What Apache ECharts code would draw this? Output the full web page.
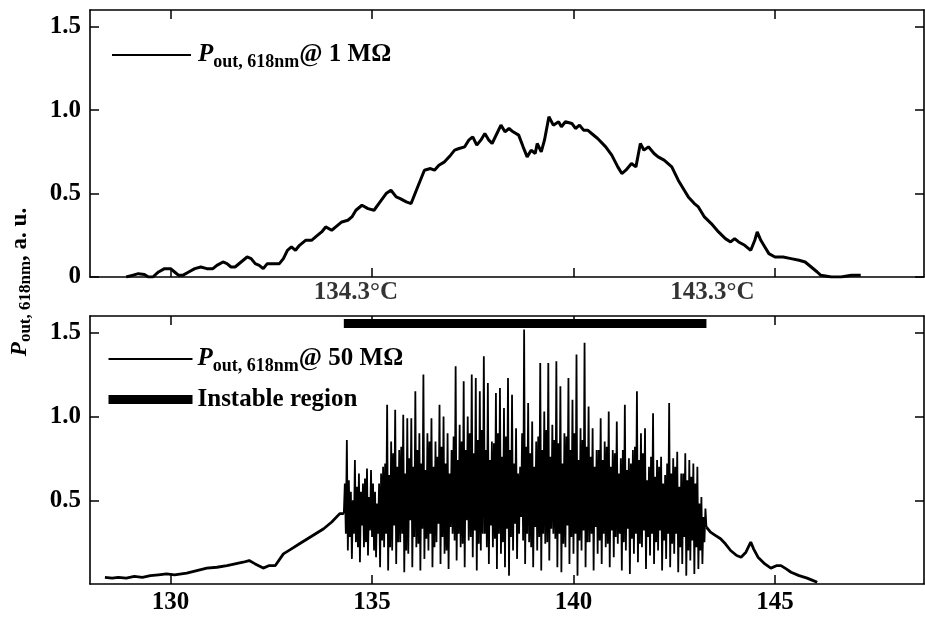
<!DOCTYPE html>
<html>
<head>
<meta charset="utf-8">
<style>html,body{margin:0;padding:0;background:#fff;}#chart{width:925px;height:644px;}</style>
<script src="https://cdn.jsdelivr.net/npm/echarts@6/dist/echarts.min.js"></script>
</head>
<body>
<div id="chart"></div>
<script>
// ---- data ----
const tempTicks = [130, 135, 140, 145];
const tempTickLabels = ['130', '135', '140', '145'];
const powerTicksTop = [0, 0.5, 1.0, 1.5];
const powerTicksBottom = [0.5, 1.0, 1.5];
const instableRegion = [134.3, 143.3];
const instableLevel = 1.555;
const instableLabels = ['134.3°C', '143.3°C'];

// P_out @ 1 MOhm  [T, P]
const p1MOhm = [[128.90,0.00],[129.05,0.01],[129.20,0.02],[129.35,0.015],[129.45,0.00],[129.56,0.00],[129.70,0.03],[129.85,0.05],[130.00,0.05],[130.10,0.03],[130.20,0.01],[130.30,0.01],[130.45,0.03],[130.60,0.05],[130.75,0.06],[130.90,0.05],[131.05,0.05],[131.15,0.07],[131.30,0.09],[131.40,0.08],[131.50,0.06],[131.60,0.06],[131.75,0.09],[131.90,0.12],[132.00,0.11],[132.10,0.08],[132.20,0.07],[132.30,0.05],[132.40,0.08],[132.55,0.08],[132.70,0.08],[132.80,0.11],[132.90,0.16],[133.00,0.18],[133.10,0.16],[133.20,0.19],[133.35,0.22],[133.50,0.22],[133.60,0.24],[133.75,0.27],[133.85,0.30],[134.00,0.28],[134.10,0.30],[134.25,0.33],[134.40,0.34],[134.50,0.36],[134.60,0.40],[134.75,0.43],[134.90,0.41],[135.05,0.40],[135.20,0.45],[135.35,0.50],[135.47,0.52],[135.60,0.48],[135.70,0.47],[135.85,0.45],[135.97,0.44],[136.10,0.52],[136.20,0.58],[136.30,0.64],[136.45,0.65],[136.55,0.64],[136.66,0.67],[136.80,0.69],[136.95,0.73],[137.05,0.76],[137.16,0.77],[137.30,0.78],[137.40,0.82],[137.50,0.84],[137.60,0.79],[137.70,0.82],[137.80,0.86],[137.90,0.82],[137.98,0.80],[138.10,0.86],[138.20,0.91],[138.30,0.87],[138.40,0.89],[138.50,0.87],[138.64,0.85],[138.75,0.78],[138.85,0.72],[138.95,0.76],[139.05,0.74],[139.10,0.80],[139.20,0.75],[139.28,0.82],[139.39,0.96],[139.50,0.91],[139.63,0.93],[139.70,0.90],[139.80,0.93],[139.96,0.92],[140.05,0.89],[140.15,0.91],[140.25,0.88],[140.35,0.88],[140.45,0.86],[140.60,0.83],[140.80,0.78],[140.95,0.73],[141.10,0.66],[141.20,0.62],[141.30,0.64],[141.44,0.68],[141.55,0.66],[141.66,0.80],[141.75,0.76],[141.86,0.78],[142.00,0.74],[142.10,0.72],[142.25,0.70],[142.44,0.66],[142.60,0.58],[142.75,0.52],[142.85,0.48],[143.00,0.44],[143.10,0.42],[143.25,0.36],[143.42,0.32],[143.60,0.27],[143.77,0.23],[143.90,0.21],[144.00,0.23],[144.10,0.21],[144.25,0.19],[144.40,0.16],[144.50,0.22],[144.56,0.27],[144.65,0.22],[144.75,0.18],[144.85,0.14],[145.00,0.12],[145.20,0.12],[145.40,0.11],[145.60,0.10],[145.75,0.09],[145.90,0.06],[146.05,0.03],[146.14,0.01],[146.40,0.00],[146.64,0.00],[146.90,0.01],[147.13,0.01]];

// P_out @ 50 MOhm, split in three parts  [T, P]
const p50Ramp = [[128.37,0.04],[128.55,0.035],[128.70,0.04],[128.90,0.035],[129.10,0.045],[129.30,0.04],[129.50,0.05],[129.70,0.055],[129.90,0.06],[130.10,0.055],[130.40,0.065],[130.65,0.08],[130.90,0.095],[131.15,0.10],[131.40,0.11],[131.60,0.12],[131.80,0.13],[131.95,0.14],[132.10,0.12],[132.30,0.095],[132.45,0.11],[132.60,0.11],[132.80,0.18],[133.00,0.21],[133.20,0.24],[133.40,0.27],[133.60,0.30],[133.80,0.33],[134.00,0.37],[134.20,0.42],[134.30,0.42]];

const p50Instable = [
[134.300,0.42],[134.325,0.60],[134.350,0.30],[134.375,0.86],
[134.400,0.20],[134.425,0.62],[134.450,0.28],[134.475,0.55],
[134.500,0.15],[134.525,0.50],[134.550,0.30],[134.575,0.74],
[134.600,0.25],[134.625,0.58],[134.650,0.22],[134.675,0.66],
[134.700,0.13],[134.725,0.55],[134.750,0.35],[134.775,0.60],
[134.800,0.22],[134.825,0.63],[134.850,0.25],[134.875,0.69],
[134.900,0.17],[134.925,0.52],[134.950,0.32],[134.975,0.68],
[135.000,0.28],[135.025,0.60],[135.050,0.20],[135.075,0.55],
[135.100,0.16],[135.125,0.48],[135.150,0.30],[135.175,0.60],
[135.200,0.10],[135.225,0.66],[135.250,0.26],[135.275,0.70],
[135.300,0.22],[135.325,0.72],[135.350,0.30],[135.375,1.07],
[135.400,0.08],[135.425,0.65],[135.450,0.22],[135.475,0.85],
[135.500,0.20],[135.525,0.78],[135.550,0.35],[135.575,1.04],
[135.600,0.12],[135.625,0.70],[135.650,0.25],[135.675,0.80],
[135.700,0.25],[135.725,0.82],[135.750,0.30],[135.775,1.01],
[135.800,0.07],[135.825,0.66],[135.850,0.20],[135.875,0.99],
[135.900,0.18],[135.925,0.75],[135.950,0.38],[135.975,0.99],
[136.000,0.10],[136.025,0.70],[136.050,0.28],[136.075,1.15],
[136.100,0.22],[136.125,0.80],[136.150,0.24],[136.175,0.90],
[136.200,0.08],[136.225,0.72],[136.250,0.33],[136.275,1.25],
[136.300,0.15],[136.325,0.68],[136.350,0.27],[136.375,0.90],
[136.400,0.20],[136.425,0.85],[136.450,0.30],[136.475,0.99],
[136.500,0.10],[136.525,0.70],[136.550,0.22],[136.575,0.85],
[136.600,0.25],[136.625,0.76],[136.650,0.36],[136.675,1.07],
[136.700,0.12],[136.725,0.82],[136.750,0.28],[136.775,1.00],
[136.800,0.18],[136.825,0.72],[136.850,0.20],[136.875,0.90],
[136.900,0.09],[136.925,0.66],[136.950,0.34],[136.975,0.80],
[137.000,0.30],[137.025,0.88],[137.050,0.26],[137.075,1.30],
[137.100,0.14],[137.125,0.74],[137.150,0.30],[137.175,0.95],
[137.200,0.22],[137.225,0.85],[137.250,0.24],[137.275,1.21],
[137.300,0.10],[137.325,0.80],[137.350,0.38],[137.375,1.00],
[137.400,0.26],[137.425,0.90],[137.450,0.28],[137.475,1.25],
[137.500,0.16],[137.525,0.78],[137.550,0.32],[137.575,1.23],
[137.600,0.08],[137.625,0.86],[137.650,0.24],[137.675,1.15],
[137.700,0.20],[137.725,0.92],[137.750,0.30],[137.775,1.36],
[137.800,0.30],[137.825,0.80],[137.850,0.22],[137.875,1.20],
[137.900,0.12],[137.925,0.74],[137.950,0.35],[137.975,0.85],
[138.000,0.22],[138.025,0.84],[138.050,0.27],[138.075,1.14],
[138.100,0.09],[138.125,0.90],[138.150,0.30],[138.175,1.17],
[138.200,0.18],[138.225,0.76],[138.250,0.25],[138.275,1.05],
[138.300,0.10],[138.325,0.88],[138.350,0.33],[138.375,1.23],
[138.400,0.05],[138.425,0.80],[138.450,0.28],[138.475,1.13],
[138.500,0.20],[138.525,0.72],[138.550,0.36],[138.575,0.93],
[138.600,0.15],[138.625,0.66],[138.650,0.30],[138.675,0.70],
[138.700,0.40],[138.725,0.90],[138.750,0.26],[138.775,1.52],
[138.800,0.12],[138.825,0.82],[138.850,0.30],[138.875,1.08],
[138.900,0.25],[138.925,0.78],[138.950,0.22],[138.975,0.97],
[139.000,0.10],[139.025,0.70],[139.050,0.34],[139.075,0.85],
[139.100,0.20],[139.125,0.88],[139.150,0.28],[139.175,1.32],
[139.200,0.08],[139.225,0.80],[139.250,0.30],[139.275,1.03],
[139.300,0.24],[139.325,0.92],[139.350,0.25],[139.375,1.32],
[139.400,0.14],[139.425,0.76],[139.450,0.33],[139.475,0.95],
[139.500,0.30],[139.525,0.86],[139.550,0.27],[139.575,1.33],
[139.600,0.10],[139.625,0.84],[139.650,0.30],[139.675,1.18],
[139.700,0.07],[139.725,0.72],[139.750,0.24],[139.775,0.90],
[139.800,0.22],[139.825,0.88],[139.850,0.35],[139.875,1.23],
[139.900,0.12],[139.925,0.80],[139.950,0.28],[139.975,1.10],
[140.000,0.18],[140.025,0.90],[140.050,0.30],[140.075,1.37],
[140.100,0.05],[140.125,0.74],[140.150,0.26],[140.175,0.93],
[140.200,0.20],[140.225,0.86],[140.250,0.32],[140.275,1.44],
[140.300,0.10],[140.325,0.82],[140.350,0.25],[140.375,1.06],
[140.400,0.25],[140.425,0.76],[140.450,0.30],[140.475,0.93],
[140.500,0.08],[140.525,0.70],[140.550,0.34],[140.575,0.80],
[140.600,0.18],[140.625,0.80],[140.650,0.26],[140.675,0.99],
[140.700,0.12],[140.725,0.74],[140.750,0.30],[140.775,0.85],
[140.800,0.22],[140.825,0.82],[140.850,0.24],[140.875,1.03],
[140.900,0.10],[140.925,0.70],[140.950,0.32],[140.975,0.80],
[141.000,0.16],[141.025,0.78],[141.050,0.28],[141.075,0.97],
[141.100,0.24],[141.125,0.66],[141.150,0.30],[141.175,0.75],
[141.200,0.08],[141.225,0.80],[141.250,0.25],[141.275,1.07],
[141.300,0.20],[141.325,0.68],[141.350,0.33],[141.375,0.75],
[141.400,0.06],[141.425,0.72],[141.450,0.27],[141.475,0.80],
[141.500,0.18],[141.525,0.82],[141.550,0.30],[141.575,1.15],
[141.600,0.13],[141.625,0.74],[141.650,0.24],[141.675,0.90],
[141.700,0.22],[141.725,0.78],[141.750,0.32],[141.775,0.93],
[141.800,0.09],[141.825,0.62],[141.850,0.28],[141.875,0.70],
[141.900,0.17],[141.925,0.76],[141.950,0.30],[141.975,1.02],
[142.000,0.12],[142.025,0.64],[142.050,0.25],[142.075,0.74],
[142.100,0.20],[142.125,0.70],[142.150,0.32],[142.175,0.76],
[142.200,0.08],[142.225,0.60],[142.250,0.26],[142.275,0.65],
[142.300,0.15],[142.325,0.72],[142.350,0.30],[142.375,1.08],
[142.400,0.10],[142.425,0.66],[142.450,0.24],[142.475,0.75],
[142.500,0.18],[142.525,0.70],[142.550,0.30],[142.575,0.79],
[142.600,0.07],[142.625,0.58],[142.650,0.22],[142.675,0.66],
[142.700,0.12],[142.725,0.66],[142.750,0.28],[142.775,0.78],
[142.800,0.05],[142.825,0.62],[142.850,0.20],[142.875,0.74],
[142.900,0.14],[142.925,0.64],[142.950,0.26],[142.975,0.72],
[143.000,0.06],[143.025,0.60],[143.050,0.22],[143.075,0.70],
[143.100,0.09],[143.125,0.48],[143.150,0.20],[143.175,0.52],
[143.200,0.12],[143.225,0.40],[143.250,0.25],[143.275,0.45],
[143.300,0.34]];

const p50Tail = [[143.30,0.34],[143.40,0.31],[143.52,0.29],[143.65,0.27],[143.77,0.24],[143.90,0.20],[144.05,0.17],[144.16,0.16],[144.28,0.19],[144.40,0.25],[144.47,0.21],[144.58,0.16],[144.75,0.12],[144.90,0.095],[145.05,0.11],[145.15,0.11],[145.28,0.09],[145.40,0.07],[145.60,0.05],[145.80,0.035],[145.95,0.02],[146.05,0.01]];

// ---- chart ----
const FONT = '"Liberation Serif", "DejaVu Serif", serif';
const BLACK = '#000';
const richDefs = {
  i: {fontFamily: FONT, fontSize: 25, fontWeight: 'bold', fontStyle: 'italic', color: BLACK, lineHeight: 32},
  s: {fontFamily: FONT, fontSize: 18, fontWeight: 'bold', color: BLACK, lineHeight: 32, padding: [14, 0, 0, 0]},
  n: {fontFamily: FONT, fontSize: 25, fontWeight: 'bold', color: BLACK, lineHeight: 32}
};
const legendText = {
  'p1': '{i|P}{s|out, 618nm}{n|@ 1 MΩ}',
  'p50': '{i|P}{s|out, 618nm}{n|@ 50 MΩ}',
  'inst': '{n|Instable region}'
};

const grids = [
  {left: 90, right: 1, top: 10, height: 267},
  {left: 90, right: 1, top: 316, height: 268}
];

function xAx(gi, pos, labels) {
  return {
    type: 'value', gridIndex: gi, position: pos, min: 128, max: 148.7,
    axisLine: {show: true, onZero: false, lineStyle: {color: BLACK, width: 1.6}},
    axisTick: {show: true, inside: true, length: 9, customValues: tempTicks, lineStyle: {color: BLACK, width: 1.5}},
    axisLabel: labels ? {show: true, customValues: tempTicks, margin: 6, color: BLACK, fontFamily: FONT, fontSize: 25, fontWeight: 'bold',
      formatter: v => tempTickLabels[tempTicks.indexOf(v)] || ''} : {show: false},
    splitLine: {show: false}
  };
}
function yAx(gi, pos, ticks, labels) {
  return {
    type: 'value', gridIndex: gi, position: pos, min: 0, max: 1.6,
    axisLine: {show: true, onZero: false, lineStyle: {color: BLACK, width: 1.6}},
    axisTick: {show: true, inside: true, length: 9, customValues: ticks, lineStyle: {color: BLACK, width: 1.5}},
    axisLabel: labels ? {show: true, customValues: ticks, margin: 9, color: BLACK, fontFamily: FONT, fontSize: 25, fontWeight: 'bold',
      formatter: v => v === 0 ? '0' : v.toFixed(1)} : {show: false},
    splitLine: {show: false}
  };
}

const hiddenSymbol = {opacity: 0, color: 'rgba(0,0,0,0)', borderWidth: 0};

const option = {
  backgroundColor: '#fff',
  animation: false,
  grid: grids,
  xAxis: [xAx(0, 'bottom', false), xAx(0, 'top', false), xAx(1, 'bottom', true), xAx(1, 'top', false)],
  yAxis: [yAx(0, 'left', powerTicksTop, true), yAx(0, 'right', powerTicksTop, false),
          yAx(1, 'left', powerTicksBottom, true), yAx(1, 'right', powerTicksBottom, false)],
  legend: [
    {
      data: [{name: 'p1', lineStyle: {width: 2, color: BLACK, opacity: 1}, itemStyle: hiddenSymbol}],
      left: 106, top: 34, itemWidth: 79, itemHeight: 14, selectedMode: false,
      formatter: n => legendText[n], textStyle: {rich: richDefs, padding: [0, 0, 0, 2]}
    },
    {
      data: [{name: 'p50', lineStyle: {width: 2, color: BLACK, opacity: 1}, itemStyle: hiddenSymbol},
             {name: 'inst', lineStyle: {width: 9, color: BLACK, opacity: 1}, itemStyle: hiddenSymbol}],
      orient: 'vertical', left: 99, top: 338, itemGap: 12, itemWidth: 84, itemHeight: 14, selectedMode: false,
      formatter: n => legendText[n], textStyle: {rich: richDefs}
    }
  ],
  graphic: [{
    type: 'text', x: 20, y: 282, rotation: Math.PI / 2,
    style: {
      text: '{i|P}{s|out, 618nm}{n|, a. u.}',
      align: 'center', verticalAlign: 'middle',
      rich: {
        i: {fontFamily: FONT, fontSize: 23, fontWeight: 'bold', fontStyle: 'italic', fill: BLACK, lineHeight: 28},
        s: {fontFamily: FONT, fontSize: 17, fontWeight: 'bold', fill: BLACK, lineHeight: 28, padding: [12, 0, 0, 0]},
        n: {fontFamily: FONT, fontSize: 23, fontWeight: 'bold', fill: BLACK, lineHeight: 28}
      }
    }
  }],
  series: [
    {name: 'p1', type: 'line', xAxisIndex: 0, yAxisIndex: 0, data: p1MOhm, symbol: 'none',
      lineStyle: {color: BLACK, width: 3}, itemStyle: {color: BLACK}},
    {name: 'p50', type: 'line', xAxisIndex: 2, yAxisIndex: 2, data: p50Ramp, symbol: 'none',
      lineStyle: {color: BLACK, width: 2.8}, itemStyle: {color: BLACK}},
    {name: 'p50', type: 'line', xAxisIndex: 2, yAxisIndex: 2, data: p50Instable, symbol: 'none',
      lineStyle: {color: BLACK, width: 1.8}, itemStyle: {color: BLACK}},
    {name: 'p50', type: 'line', xAxisIndex: 2, yAxisIndex: 2, data: p50Tail, symbol: 'none',
      lineStyle: {color: BLACK, width: 2.8}, itemStyle: {color: BLACK}},
    {name: 'inst', type: 'line', xAxisIndex: 2, yAxisIndex: 2, symbol: 'none',
      data: [[instableRegion[0], instableLevel], [instableRegion[1], instableLevel]],
      lineStyle: {color: BLACK, width: 9}, itemStyle: {color: BLACK}},
    {name: 'instLabels', type: 'scatter', xAxisIndex: 2, yAxisIndex: 2, symbolSize: 0, clip: false,
      data: [
        {value: [instableRegion[0], instableLevel], name: instableLabels[0], label: {offset: [12, -31]}},
        {value: [instableRegion[1], instableLevel], name: instableLabels[1], label: {offset: [6, -31]}}
      ],
      label: {show: true, position: 'inside', formatter: p => p.name, color: BLACK,
        fontFamily: FONT, fontSize: 25, fontWeight: 'bold'}
    }
  ]
};

const chart = echarts.init(document.getElementById('chart'), null, {renderer: 'canvas'});
chart.setOption(option);
</script>
</body>
</html>
